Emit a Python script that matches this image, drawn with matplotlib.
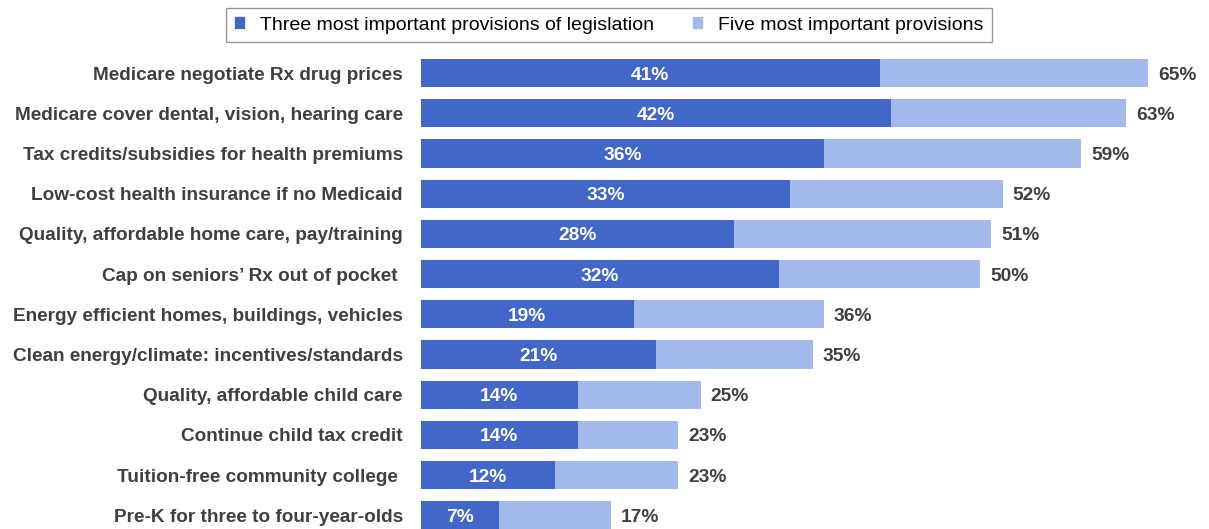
import matplotlib
matplotlib.use("Agg")
import matplotlib.pyplot as plt
from matplotlib.patches import Patch

plt.rcParams['font.family'] = ['Liberation Sans', 'DejaVu Sans']

# Data
provisions = [
    "Medicare negotiate Rx drug prices",
    "Medicare cover dental, vision, hearing care",
    "Tax credits/subsidies for health premiums",
    "Low-cost health insurance if no Medicaid",
    "Quality, affordable home care, pay/training",
    "Cap on seniors\u2019 Rx out of pocket ",
    "Energy efficient homes, buildings, vehicles",
    "Clean energy/climate: incentives/standards",
    "Quality, affordable child care",
    "Continue child tax credit",
    "Tuition-free community college ",
    "Pre-K for three to four-year-olds",
]
top_three = [41, 42, 36, 33, 28, 32, 19, 21, 14, 14, 12, 7]
top_five = [65, 63, 59, 52, 51, 50, 36, 35, 25, 23, 23, 17]

dark = "#4367C9"
light = "#A4B9EC"
label_grey = "#3F3F3F"

fig = plt.figure(figsize=(12.09, 5.29), dpi=100)
ax = fig.add_axes([421 / 1209, 0, (1204 - 421) / 1209, (529 - 45) / 529])

pos = list(range(len(provisions)))
# Five-most bars behind, three-most bars on top
ax.barh(pos, top_five, height=0.70, color=light, zorder=2)
ax.barh(pos, top_three, height=0.70, color=dark, zorder=3)

for i in pos:
    ax.text(top_three[i] / 2, i, f"{top_three[i]}%", ha='center', va='center_baseline',
            color='white', fontsize=13.8, fontweight='bold', zorder=4)
    ax.text(top_five[i] + 0.9, i, f"{top_five[i]}%", ha='left', va='center_baseline',
            color=label_grey, fontsize=13.8, fontweight='bold')

ax.set_xlim(0, 70)
ax.set_ylim(11.34, -0.70)
ax.set_yticks(pos)
ax.set_yticklabels(provisions, fontsize=13.7, fontweight='bold', color=label_grey)
ax.tick_params(axis='y', length=0, pad=13)
ax.set_xticks([])
for s in ax.spines.values():
    s.set_visible(False)

handles = [Patch(color=dark, label="Three most important provisions of legislation"),
           Patch(color=light, label="Five most important provisions")]
fig.legend(handles=handles, loc='center', bbox_to_anchor=(609 / 1209, 1 - 25 / 529),
           ncol=2, fontsize=14, frameon=True, fancybox=False, edgecolor='#7F7F7F',
           handlelength=0.5, handleheight=0.5, handletextpad=0.8, columnspacing=2.0,
           borderpad=0.45)

fig.savefig("out.png", dpi=100)
